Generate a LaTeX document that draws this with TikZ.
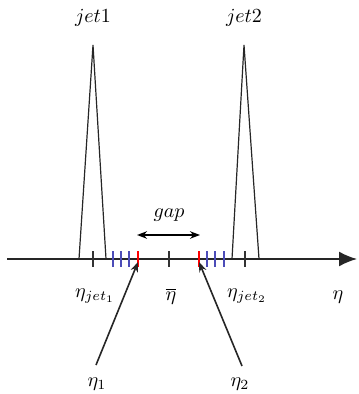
\documentclass[tikz,border=0pt]{standalone}
\usepackage{amsmath}
\usepackage{amssymb}
\usetikzlibrary{arrows.meta}

\definecolor{tickblue}{rgb}{0.3,0.3,0.72}

\tikzset{
  blacktick/.style={thick,black!80},
  bluetick/.style={thick,tickblue},
  redtick/.style={thick,red},
  lab/.style={inner sep=1pt}
}

\begin{document}
\begin{tikzpicture}[x=0.5pt,y=-0.5pt]
			\useasboundingbox (0,0) rectangle (358,394);
			% the eta axis
			\draw[line width=0.9pt,black!85,-{Latex[length=9pt,width=7.5pt]}] (7,259) -- (357,259);
			\node[lab] (etaax) at (338,297) {$\eta$};
			% the two jets
			\draw[semithick,black!85] (79,259) -- (93,45) -- (106,259);
			\draw[semithick,black!85] (232,259) -- (244,45) -- (259,259);
			\node[lab] (jetone) at (93,18) {$jet1$};
			\node[lab] (jettwo) at (244,18) {$jet2$};
			% ticks on the axis
			\foreach \x in {93,169,245}
				\draw[blacktick] (\x,251) -- (\x,267);
			\foreach \x in {113,121,129,207,215,224}
				\draw[bluetick] (\x,251) -- (\x,267);
			\draw[redtick] (138,251) -- (138,267);
			\draw[redtick] (199,251) -- (199,267);
			\coordinate (redone) at (138,262);
			\coordinate (redtwo) at (199,262);
			\node[lab] (etajone) at (95,296) {$\eta_{jet_1}$};
			\node[lab] (etabar) at (171,296) {$\overline{\eta}$};
			\node[lab] (etajtwo) at (247,296) {$\eta_{jet_2}$};
			% the gap
			\coordinate (gapl) at (137,235);
			\coordinate (gapr) at (200,235);
			\draw[thick,{Stealth[length=5pt]}-{Stealth[length=5pt]}] (gapl) -- (gapr);
			\node[lab] (gap) at (169,215) {$gap$};
			% eta_1 and eta_2
			\node[lab] (etaone) at (97,384) {$\eta_1$};
			\node[lab] (etatwo) at (240,384) {$\eta_2$};
			\coordinate (startone) at (96,365);
			\coordinate (starttwo) at (242,366);
			\draw[thick,black!85,-{Stealth[length=5pt]}] (startone) -- (redone);
			\draw[thick,black!85,-{Stealth[length=5pt]}] (starttwo) -- (redtwo);
		\end{tikzpicture}
\end{document}
